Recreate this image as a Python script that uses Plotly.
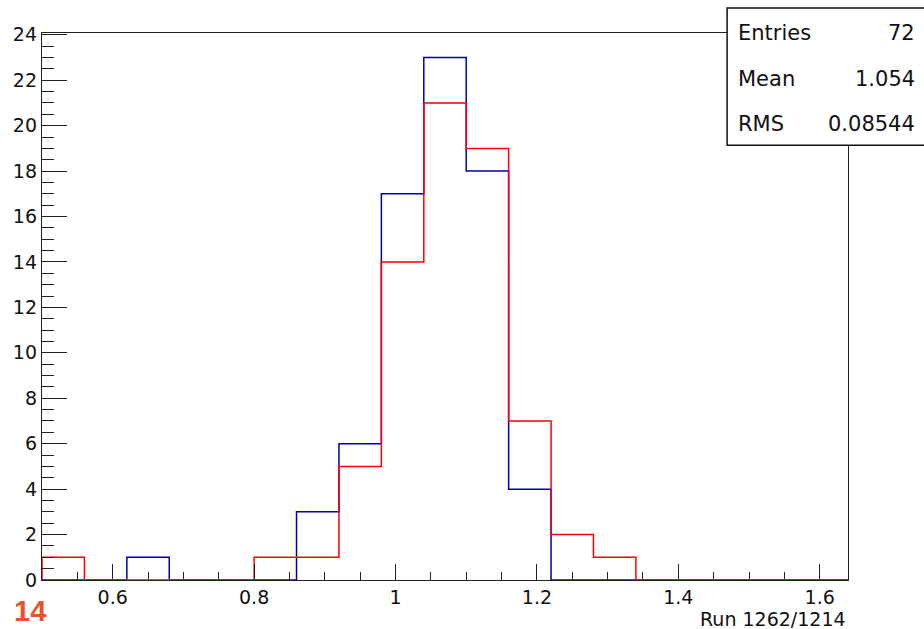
import plotly.graph_objects as go

# ---- data ----
bin_start = 0.5
bin_width = 0.06
blue_counts = [0, 0, 1, 0, 0, 0, 3, 6, 17, 23, 18, 4, 0, 0, 0, 0, 0, 0, 0]
red_counts = [1, 0, 0, 0, 0, 1, 1, 5, 14, 21, 19, 7, 2, 1, 0, 0, 0, 0, 0]
stats_labels = ["Entries", "Mean", "RMS"]
stats_values = ["72", "1.054", "0.08544"]
page_label = "14"
x_title = "Run 1262/1214"

n_bins = len(blue_counts)
edges = [round(bin_start + i * bin_width, 4) for i in range(n_bins + 1)]


def step_xy(counts):
    xs = [edges[0]] + edges + [edges[-1]]
    ys = [0] + list(counts) + [counts[-1], 0]
    return xs, ys


fig = go.Figure()
bx, by = step_xy(blue_counts)
rx, ry = step_xy(red_counts)
fig.add_trace(go.Scatter(x=bx, y=by, mode="lines", line=dict(color="#0000a8", width=1.5, shape="hv"),
                         showlegend=False, hoverinfo="skip", cliponaxis=False))
fig.add_trace(go.Scatter(x=rx, y=ry, mode="lines", line=dict(color="#ff0000", width=1.5, shape="hv"),
                         showlegend=False, hoverinfo="skip", cliponaxis=False))

tick_font = dict(family="DejaVu Sans", size=19, color="#111111")
fig.update_xaxes(range=[edges[0], edges[-1]], tick0=0, dtick=0.2, ticks="inside", ticklen=16,
                 tickwidth=1.2, tickcolor="#222222", showline=True, linecolor="#222222", linewidth=1.3,
                 mirror=True, showgrid=False, zeroline=False, tickfont=tick_font,
                 minor=dict(dtick=0.05, tick0=0, ticks="inside", ticklen=8, tickwidth=1.2, tickcolor="#222222"))
fig.update_yaxes(range=[0, 24.08], tick0=0, dtick=2, ticks="inside", ticklen=25,
                 tickwidth=1.2, tickcolor="#222222", showline=True, linecolor="#222222", linewidth=1.3,
                 mirror=True, showgrid=False, zeroline=False, tickfont=tick_font,
                 minor=dict(dtick=0.5, tick0=0, ticks="inside", ticklen=12, tickwidth=1.2, tickcolor="#222222"))

# stats box
fig.add_shape(type="rect", xref="paper", yref="paper", x0=0.850, x1=1.12, y0=0.795, y1=1.0457,
              fillcolor="white", line=dict(color="#111111", width=1.5), layer="above")
row_y = [1.0, 0.9159, 0.8336]
stat_font = dict(family="DejaVu Sans", size=21, color="#111111")
for lab, val, yy in zip(stats_labels, stats_values, row_y):
    fig.add_annotation(xref="paper", yref="paper", x=0.861, y=yy, text=lab, showarrow=False,
                       xanchor="left", yanchor="middle", font=stat_font)
    fig.add_annotation(xref="paper", yref="paper", x=1.0856, y=yy, text=val, showarrow=False,
                       xanchor="right", yanchor="middle", font=stat_font)

fig.add_annotation(xref="paper", yref="paper", x=-0.037, y=-0.0893, text=page_label, showarrow=False,
                   xanchor="left", yanchor="bottom",
                   font=dict(family="Liberation Sans", size=29, color="#e8542a", weight="bold"))
fig.add_annotation(xref="paper", yref="paper", x=1.0, y=-0.0713, text=x_title, showarrow=False,
                   xanchor="right", yanchor="middle",
                   font=dict(family="DejaVu Sans", size=19, color="#111111"))

fig.update_layout(width=924, height=629, margin=dict(l=42, r=76, t=33, b=49),
                  paper_bgcolor="white", plot_bgcolor="white", showlegend=False)

fig.write_html("out.html", config={"displayModeBar": False},
               post_script="document.body.style.margin='0';document.body.style.overflow='hidden';")
